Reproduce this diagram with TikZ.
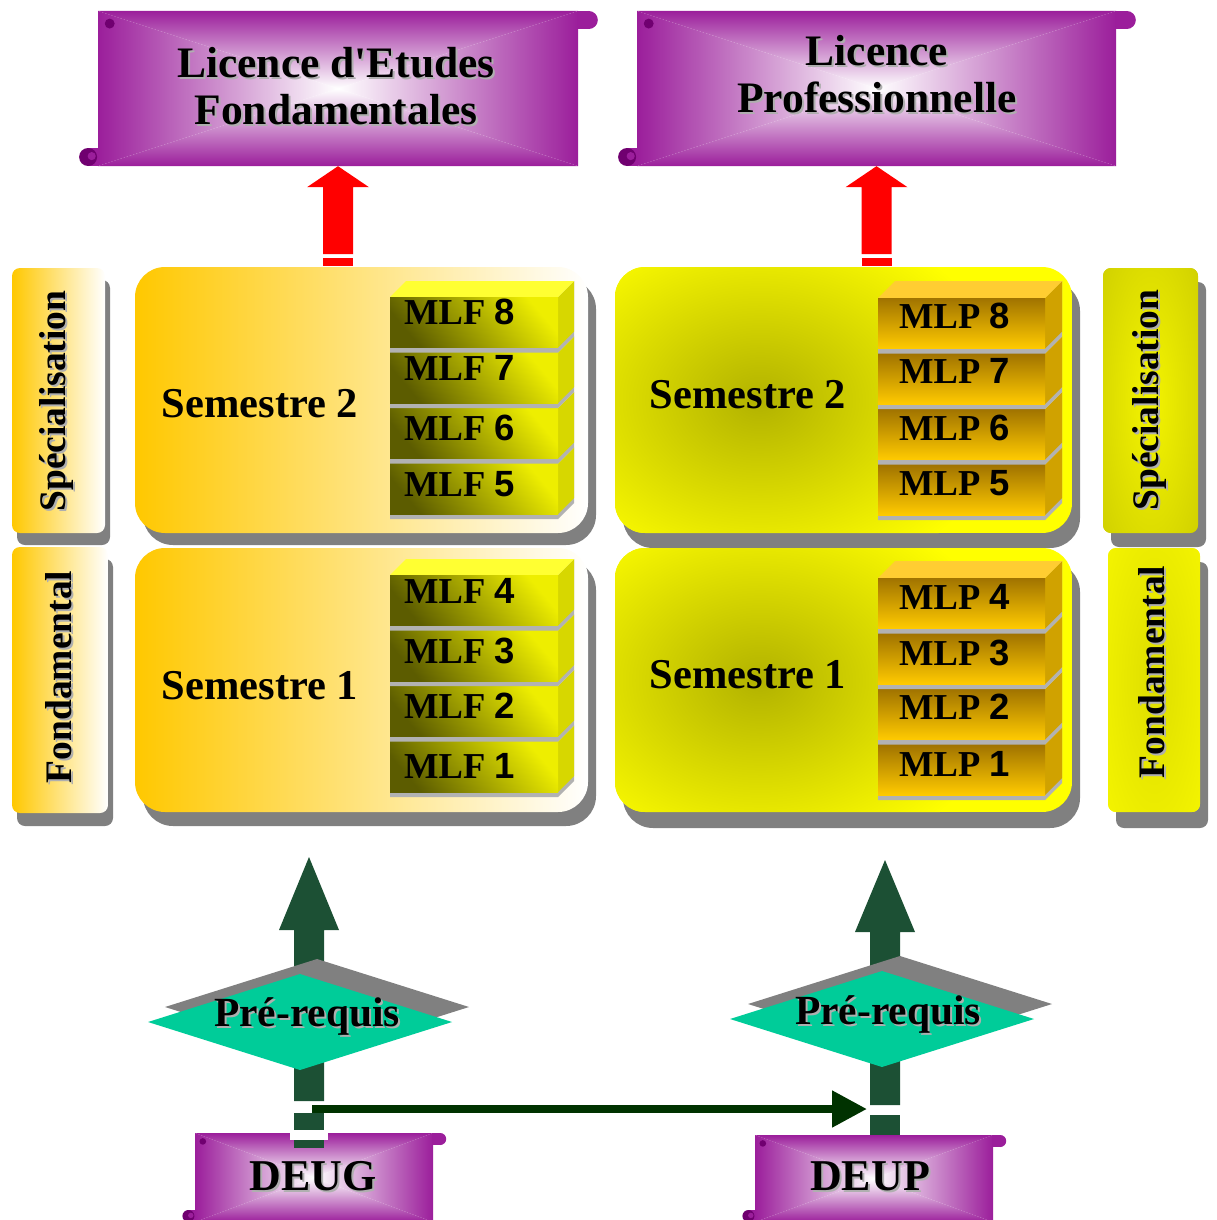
\documentclass[tikz,border=0pt]{standalone}
\usepackage{fontspec}
\setmainfont{Liberation Serif}
\newfontfamily\rawserif{Liberation Serif}
\newfontfamily\lsans{Liberation Sans}
\usetikzlibrary{calc,arrows.meta}

\definecolor{scr}{RGB}{155,30,155}
\definecolor{scrdark}{RGB}{112,0,112}
\definecolor{shgray}{RGB}{128,128,128}
\definecolor{txtsh}{RGB}{175,175,175}
\definecolor{orangey}{RGB}{255,200,0}
\definecolor{yel}{RGB}{255,255,0}
\definecolor{olivec}{RGB}{178,178,0}
\definecolor{olivel}{RGB}{192,192,0}
\definecolor{yelmid}{RGB}{244,244,0}
\definecolor{yelsoft}{RGB}{222,222,0}
\definecolor{mlfdark}{RGB}{92,92,0}
\definecolor{mlfmid}{RGB}{150,150,0}
\definecolor{mlfbright}{RGB}{238,238,0}
\definecolor{mlfside}{RGB}{215,215,0}
\definecolor{mlftop}{RGB}{255,255,50}
\definecolor{mlpdark}{RGB}{160,115,0}
\definecolor{mlpmid}{RGB}{240,185,0}
\definecolor{mlpbright}{RGB}{255,202,0}
\definecolor{mlpside}{RGB}{208,162,0}
\definecolor{mlptop}{RGB}{255,205,50}
\definecolor{sepg}{RGB}{178,178,178}
\definecolor{teal2}{RGB}{0,204,153}
\definecolor{dkgreen}{RGB}{28,80,52}
\definecolor{hgreen}{RGB}{0,50,0}

\newcommand\shd[1]{\leavevmode\rlap{\kern2pt\raisebox{-2pt}{\textcolor{txtsh}{#1}}}#1}
\newcommand\shdr[1]{\leavevmode\rlap{\kern-2pt\raisebox{-2pt}{\textcolor{txtsh}{#1}}}#1}
\newcommand\myfs[2]{\fontsize{#1}{#2}\selectfont\bfseries}

% scroll banner: x1 y1 x2 y2 r
\newcommand\scrollbanner[5]{%
  \shade[top color=scr, bottom color=white] (#1,#2) -- (#3,#2) -- ({(#1+#3)/2},{(#2+#4)/2}) -- cycle;
  \shade[bottom color=scr, top color=white] (#1,#4) -- (#3,#4) -- ({(#1+#3)/2},{(#2+#4)/2}) -- cycle;
  \shade[left color=scr, right color=white] (#1,#2) -- (#1,#4) -- ({(#1+#3)/2},{(#2+#4)/2}) -- cycle;
  \shade[right color=scr, left color=white] (#3,#2) -- (#3,#4) -- ({(#1+#3)/2},{(#2+#4)/2}) -- cycle;
  \fill[scr] (#3-1,#2) rectangle ({#3+1.2*#5},{#2+2*#5});
  \fill[scr] ({#3+1.2*#5},{#2+#5}) circle ({#5});
  \fill[scrdark] ({#1+1.3*#5},{#2+1.4*#5}) circle ({0.55*#5});
  \fill[scr] ({#1-1.1*#5},{#4-2*#5}) rectangle (#1+1,#4);
  \fill[scrdark] ({#1-1.1*#5},{#4-#5}) circle ({#5});
  \fill[scr] ({#1-0.7*#5},{#4-1.1*#5}) circle ({0.45*#5});
}

% MLF block: y1, digit, text y, name
\newcommand\mlfblock[4]{%
  \fill[sepg] (390,#1) -- (558,#1) -- (574,#1-16) -- (574,#1+39.5) -- (558,#1+55.5) -- (390,#1+55.5) -- cycle;
  \fill[mlfside] (558,#1) -- (574,#1-16) -- (574,#1+34.5) -- (558,#1+50.5) -- cycle;
  \fill[mlftop] (390,#1) -- (406,#1-16) -- (574,#1-16) -- (558,#1) -- cycle;
  \shade[top color=mlfbright, middle color=mlfmid, bottom color=mlfdark, shading angle=-50] (390,#1) rectangle (558,#1+50.5);
  \node[blktxt] (#4) at (404,#3) {MLF {\lsans #2}};
}
% MLP block
\newcommand\mlpblock[4]{%
  \fill[sepg] (878,#1) -- (1045,#1) -- (1062,#1-17) -- (1062,#1+38.5) -- (1045,#1+55.5) -- (878,#1+55.5) -- cycle;
  \fill[mlpside] (1045,#1) -- (1062,#1-17) -- (1062,#1+33.5) -- (1045,#1+50.5) -- cycle;
  \fill[mlptop] (878,#1) -- (895,#1-17) -- (1062,#1-17) -- (1045,#1) -- cycle;
  \shade[top color=mlpdark, middle color=mlpmid, bottom color=mlpbright] (878,#1) rectangle (1045,#1+50.5);
  \node[blktxt] (#4) at (899,#3) {MLP {\lsans #2}};
}

\tikzset{
  lbl/.style={inner sep=0pt, font=\myfs{37.5}{41}, rotate=90},
  bigtxt/.style={inner sep=0pt, align=center, font=\myfs{43.5}{47}},
  semtxt/.style={inner sep=0pt, font=\myfs{42.5}{46}},
  blktxt/.style={inner sep=0pt, anchor=west, font=\myfs{36.5}{40}},
  prtxt/.style={inner sep=0pt, font=\myfs{41.5}{45}},
  degtxt/.style={inner sep=0pt, font=\myfs{44}{48}},
  bodybox/.style={inner sep=0pt, draw=none},
  semL/.style={inner sep=0pt, rounded corners=30pt, left color=orangey, right color=white},
  labL/.style={inner sep=0pt, rounded corners=8pt, left color=orangey, right color=white},
}

\begin{document}
\begin{tikzpicture}[x=1pt,y=-1pt]
\useasboundingbox (0,0) rectangle (1216,1220);

% ---------- top banners ----------
\scrollbanner{98}{11}{578}{166}{9}
\node[bodybox, minimum width=480pt, minimum height=155pt] (lefbody) at (338,88.5) {};
\node[bigtxt] (leftxt) at (336,87) {\shd{Licence d{\rawserif '}Etudes}\\\shd{Fondamentales}};

\scrollbanner{637}{11}{1116}{166}{9}
\node[bodybox, minimum width=479pt, minimum height=155pt] (lpbody) at (876.5,88.5) {};
\node[bigtxt] (lptxt) at (877,75) {\shd{Licence}\\\shd{Professionnelle}};

% ---------- left side labels ----------
\fill[shgray, rounded corners=8pt] (17,280) rectangle (110,545);
\node[labL, minimum width=93pt, minimum height=265pt] (lspecbox) at (58.5,400.5) {};
\node[lbl] (lspec) at (57,401) {\shdr{Spécialisation}};
\fill[shgray, rounded corners=8pt] (17,559) rectangle (113,826);
\node[labL, minimum width=96pt, minimum height=266pt] (lfondbox) at (60,680) {};
\node[lbl] (lfond) at (60,677) {\shdr{Fondamental}};

% ---------- left semester boxes ----------
\fill[shgray, rounded corners=30pt] (143,279) rectangle (596,545);
\node[semL, minimum width=453pt, minimum height=266pt] (ls2) at (361.5,400) {};
\node[semtxt] (ls2t) at (260,404) {Semestre 2};
\fill[shgray, rounded corners=30pt] (143,560) rectangle (596,826);
\node[semL, minimum width=453pt, minimum height=264pt] (ls1) at (361.5,680) {};
\node[semtxt] (ls1t) at (260,686) {Semestre 1};

\mlfblock{463.5}{5}{484}{mlf5}
\mlfblock{408}{6}{428}{mlf6}
\mlfblock{352.5}{7}{368}{mlf7}
\mlfblock{297}{8}{312}{mlf8}
\mlfblock{741.5}{1}{766}{mlf1}
\mlfblock{686}{2}{706}{mlf2}
\mlfblock{630.5}{3}{651}{mlf3}
\mlfblock{575}{4}{591}{mlf4}

% ---------- right semester boxes ----------
\fill[shgray, rounded corners=30pt] (623,281) rectangle (1080,548);
\begin{scope}
  \clip[rounded corners=30pt] (615,267) rectangle (1072,533);
  \fill[yel] (615,267) rectangle (1072,533);
  \shade[inner color=olivec, outer color=yel] (760,400) ellipse [x radius=250pt, y radius=190pt];
\end{scope}
\node[bodybox, minimum width=457pt, minimum height=266pt] (rs2) at (843.5,400) {};
\node[semtxt] (rs2t) at (748,395) {Semestre 2};

\fill[shgray, rounded corners=30pt] (623,562) rectangle (1080,828);
\begin{scope}
  \clip[rounded corners=30pt] (615,548) rectangle (1072,812);
  \fill[yel] (615,548) rectangle (1072,812);
  \shade[inner color=olivec, outer color=yel] (760,680) ellipse [x radius=250pt, y radius=190pt];
\end{scope}
\node[bodybox, minimum width=457pt, minimum height=264pt] (rs1) at (843.5,680) {};
\node[semtxt] (rs1t) at (748,675) {Semestre 1};

\mlpblock{464.5}{5}{483}{mlp5}
\mlpblock{409}{6}{428}{mlp6}
\mlpblock{353.5}{7}{371}{mlp7}
\mlpblock{298}{8}{316}{mlp8}
\mlpblock{744.5}{1}{764}{mlp1}
\mlpblock{689}{2}{707}{mlp2}
\mlpblock{633.5}{3}{653}{mlp3}
\mlpblock{578}{4}{597}{mlp4}

% ---------- right side labels ----------
\fill[shgray, rounded corners=8pt] (1111,282) rectangle (1206,547);
\begin{scope}
  \clip[rounded corners=8pt] (1103,268) rectangle (1198,533);
  \fill[olivel] (1103,268) rectangle (1198,533);
  \shade[inner color=yelmid, outer color=olivel] (1150.5,400.5) ellipse [x radius=95pt, y radius=300pt];
\end{scope}
\node[bodybox, minimum width=95pt, minimum height=265pt] (rspecbox) at (1150.5,400.5) {};
\node[lbl] (rspec) at (1150,400) {\shdr{Spécialisation}};

\fill[shgray, rounded corners=8pt] (1116,562) rectangle (1208,828);
\begin{scope}
  \clip[rounded corners=8pt] (1108,548) rectangle (1200,812);
  \fill[yel] (1108,548) rectangle (1200,812);
  \shade[inner color=yelsoft, outer color=yel] (1154,680) ellipse [x radius=95pt, y radius=300pt];
\end{scope}
\node[bodybox, minimum width=92pt, minimum height=264pt] (rfondbox) at (1154,680) {};
\node[lbl] (rfond) at (1153,672) {\shdr{Fondamental}};

% ---------- red arrows ----------
\fill[red] (lefbody.south) -- ++(31,21) -- ++(-16,0) -- ++(0,67) -- ++(-30,0) -- ++(0,-67) -- ++(-16,0) -- cycle;
\fill[red] ($(lefbody.south)+(-15,92)$) rectangle ++(30,8);
\fill[red] (lpbody.south) -- ++(31,21) -- ++(-16,0) -- ++(0,67) -- ++(-30,0) -- ++(0,-67) -- ++(-16,0) -- cycle;
\fill[red] ($(lpbody.south)+(-15,92)$) rectangle ++(30,8);

% ---------- green arrows ----------
\coordinate (gtipL) at (309,857);
\coordinate (gtipR) at (885,860);
\fill[dkgreen] (gtipL) -- ++(30,73) -- ++(-15,0) -- ++(0,171) -- ++(-30,0) -- ++(0,-171) -- ++(-15,0) -- cycle;
\fill[dkgreen] (294,1113) rectangle (324,1130);
\fill[dkgreen] (gtipR) -- ++(30,72) -- ++(-15,0) -- ++(0,173) -- ++(-30,0) -- ++(0,-173) -- ++(-15,0) -- cycle;
\fill[dkgreen] (870,1115) rectangle (900,1136);

% ---------- diamonds ----------
\fill[shgray] (317,959) -- (469,1007) -- (317,1055) -- (165,1007) -- cycle;
\fill[teal2] (300,974) -- (452,1022) -- (300,1070) -- (148,1022) -- cycle;
\node[prtxt] (prL) at (307,1017) {\shd{Pré-requis}};
\fill[shgray] (900,956) -- (1052,1004) -- (900,1052) -- (748,1004) -- cycle;
\fill[teal2] (882,971) -- (1034,1019) -- (882,1067) -- (730,1019) -- cycle;
\node[prtxt] (prR) at (888,1015) {\shd{Pré-requis}};

% ---------- bottom banners ----------
\scrollbanner{195}{1133}{433}{1222}{6}
\node[bodybox, minimum width=238pt, minimum height=89pt] (deugbody) at (314,1177.5) {};
\node[degtxt] (deug) at (313,1177) {\shd{DEUG}};
\scrollbanner{755}{1135}{993}{1222}{6}
\node[bodybox, minimum width=238pt, minimum height=87pt] (deupbody) at (874,1178.5) {};
\node[degtxt] (deup) at (870,1177) {\shd{DEUP}};

\fill[white] (290,1130) rectangle (328,1140);
\fill[dkgreen] (294,1140) rectangle (324,1148);

% ---------- horizontal connector ----------
\coordinate (hstart) at (312,1109);
\coordinate (hend) at (867,1109);
\draw[hgreen, line width=8pt, -{Triangle[length=35pt,width=35pt]}] (hstart) -- (hend);
\end{tikzpicture}
\end{document}
